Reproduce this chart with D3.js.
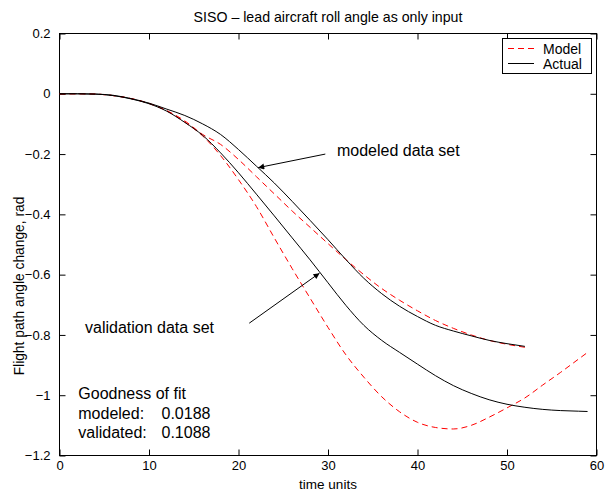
<!DOCTYPE html>
<html>
<head>
<meta charset="utf-8">
<script src="https://cdn.jsdelivr.net/npm/d3@7"></script>
<style>
  html, body { margin: 0; padding: 0; background: #fff; }
  svg text { font-family: "Liberation Sans", Arial, Helvetica, sans-serif; fill: #000; }
</style>
</head>
<body>
<svg id="chart" width="609" height="492"></svg>
<script>
// ---- data ----
const titleText = "SISO \u2013 lead aircraft roll angle as only input";
const xLabel = "time units";
const yLabel = "Flight path angle change, rad";
const xTicks = [0, 10, 20, 30, 40, 50, 60];
const yTicks = [0.2, 0, -0.2, -0.4, -0.6, -0.8, -1, -1.2];
const yTickLabels = ["0.2", "0", "\u22120.2", "\u22120.4", "\u22120.6", "\u22120.8", "\u22121", "\u22121.2"];

// modeled data set (t = 0..52 step 2)
const tModeled = [0,2,4,6,8,10,12,14,16,18,20,22,24,26,28,30,32,34,36,38,40,42,44,46,48,50,52];
const actualModeled = [0,0,-0.001,-0.005,-0.016,-0.031,-0.051,-0.072,-0.1,-0.135,-0.185,-0.24,-0.296,-0.357,-0.42,-0.484,-0.55,-0.612,-0.663,-0.705,-0.739,-0.768,-0.787,-0.803,-0.818,-0.829,-0.838];
const modelModeled  = [0,0,-0.001,-0.006,-0.016,-0.032,-0.056,-0.09,-0.135,-0.168,-0.218,-0.275,-0.332,-0.389,-0.443,-0.497,-0.55,-0.6,-0.646,-0.685,-0.72,-0.752,-0.778,-0.8,-0.818,-0.831,-0.841];

// validation data set (t = 0..58 step 2, then 59)
const tValid = [0,2,4,6,8,10,12,14,16,18,20,22,24,26,28,30,32,34,36,38,40,42,44,46,48,50,52,54,56,58,59];
const actualValid = [0,0,-0.001,-0.006,-0.017,-0.033,-0.058,-0.095,-0.138,-0.196,-0.262,-0.333,-0.405,-0.478,-0.551,-0.627,-0.702,-0.768,-0.818,-0.858,-0.897,-0.935,-0.968,-0.994,-1.015,-1.03,-1.04,-1.047,-1.051,-1.053,-1.054];
const modelValid  = [0,0,-0.001,-0.006,-0.016,-0.032,-0.057,-0.094,-0.14,-0.205,-0.285,-0.374,-0.478,-0.58,-0.678,-0.775,-0.866,-0.94,-1.005,-1.055,-1.09,-1.107,-1.112,-1.1,-1.073,-1.042,-1.009,-0.966,-0.924,-0.88,-0.858];

const legendLabels = ["Model", "Actual"];

// annotations (data units)
const annotTexts = [
  {text: "modeled data set", t: 31.0, v: -0.208},
  {text: "validation data set", t: 2.85, v: -0.792},
  {text: "Goodness of fit", t: 2.1, v: -1.011},
  {text: "modeled:", t: 2.1, v: -1.080},
  {text: "0.0188", t: 11.4, v: -1.080},
  {text: "validated:", t: 2.1, v: -1.143},
  {text: "0.1088", t: 11.4, v: -1.143}
];
const arrows = [
  {t0: 29.7, v0: -0.200, t1: 22.2, v1: -0.245},
  {t0: 21.2, v0: -0.761, t1: 29.05, v1: -0.595}
];

// ---- drawing ----
const svg = d3.select("#chart");
const L = 59.5, R = 596.5, T = 33.5, B = 455.5;
const x = d3.scaleLinear().domain([0, 60]).range([L, R]);
const y = d3.scaleLinear().domain([-1.2, 0.2]).range([B, T]);
const FS = 13;

svg.append("rect").attr("width", 609).attr("height", 492).attr("fill", "#fff");

// title
svg.append("text").attr("x", (L + R) / 2).attr("y", 22)
  .attr("text-anchor", "middle").attr("font-size", 14.2).text(titleText);

// axes (inward ticks on all sides)
const gx = svg.append("g").attr("transform", `translate(0,${B})`)
  .call(d3.axisBottom(x).tickValues(xTicks).tickSizeInner(-6).tickSizeOuter(0).tickPadding(5).tickFormat(d3.format("d")));
const gxt = svg.append("g").attr("transform", `translate(0,${T})`)
  .call(d3.axisTop(x).tickValues(xTicks).tickSizeInner(-6).tickSizeOuter(0).tickFormat(""));
const gy = svg.append("g").attr("transform", `translate(${L},0)`)
  .call(d3.axisLeft(y).tickValues(yTicks).tickSizeInner(-6).tickSizeOuter(0).tickPadding(9)
    .tickFormat((d, i) => yTickLabels[i]));
const gyr = svg.append("g").attr("transform", `translate(${R},0)`)
  .call(d3.axisRight(y).tickValues(yTicks).tickSizeInner(-6).tickSizeOuter(0).tickFormat(""));
[gx, gxt, gy, gyr].forEach(g => {
  g.select(".domain").remove();
  g.selectAll("line").attr("stroke", "#000");
  g.selectAll("text").attr("font-size", FS).attr("font-family", null);
});

// frame
svg.append("rect").attr("x", L).attr("y", T).attr("width", R - L).attr("height", B - T)
  .attr("fill", "none").attr("stroke", "#000").attr("stroke-width", 1);

// axis labels
svg.append("text").attr("x", (L + R) / 2).attr("y", 489)
  .attr("text-anchor", "middle").attr("font-size", 13.5).text(xLabel);
svg.append("text").attr("transform", `translate(24,286) rotate(-90)`)
  .attr("text-anchor", "middle").attr("font-size", 13.8).text(yLabel);

// lines
const line = d3.line().x(d => x(d[0])).y(d => y(d[1])).curve(d3.curveMonotoneX);
const plot = svg.append("g");
function drawSeries(ts, vs, color, dash) {
  plot.append("path").datum(ts.map((t, i) => [t, vs[i]]))
    .attr("d", line).attr("fill", "none").attr("stroke", color).attr("stroke-width", 1)
    .attr("stroke-dasharray", dash);
}
drawSeries(tValid, modelValid, "#ff0000", "6,4");
drawSeries(tModeled, modelModeled, "#ff0000", "6,4");
drawSeries(tValid, actualValid, "#000", null);
drawSeries(tModeled, actualModeled, "#000", null);

// annotations
svg.append("defs").append("marker").attr("id", "ah")
  .attr("viewBox", "0 0 10 10").attr("refX", 10).attr("refY", 5)
  .attr("markerWidth", 9).attr("markerHeight", 6).attr("markerUnits", "userSpaceOnUse")
  .attr("orient", "auto")
  .append("path").attr("d", "M0,0 L10,5 L0,10 Z").attr("fill", "#000");
arrows.forEach(a => {
  svg.append("line").attr("x1", x(a.t0)).attr("y1", y(a.v0)).attr("x2", x(a.t1)).attr("y2", y(a.v1))
    .attr("stroke", "#000").attr("stroke-width", 1).attr("marker-end", "url(#ah)");
});
annotTexts.forEach(a => {
  svg.append("text").attr("x", x(a.t)).attr("y", y(a.v)).attr("font-size", 16).text(a.text);
});

// legend
const lg = svg.append("g");
lg.append("rect").attr("x", 502.5).attr("y", 38.5).attr("width", 89).attr("height", 35)
  .attr("fill", "#fff").attr("stroke", "#000");
const legendStyles = [{c: "#ff0000", d: "6,4"}, {c: "#000", d: null}];
legendLabels.forEach((lab, i) => {
  const yy = 48.5 + i * 15;
  lg.append("line").attr("x1", 508).attr("x2", 534).attr("y1", yy).attr("y2", yy)
    .attr("stroke", legendStyles[i].c).attr("stroke-dasharray", legendStyles[i].d);
  lg.append("text").attr("x", 543).attr("y", yy + 5).attr("font-size", 14).text(lab);
});
</script>
</body>
</html>
